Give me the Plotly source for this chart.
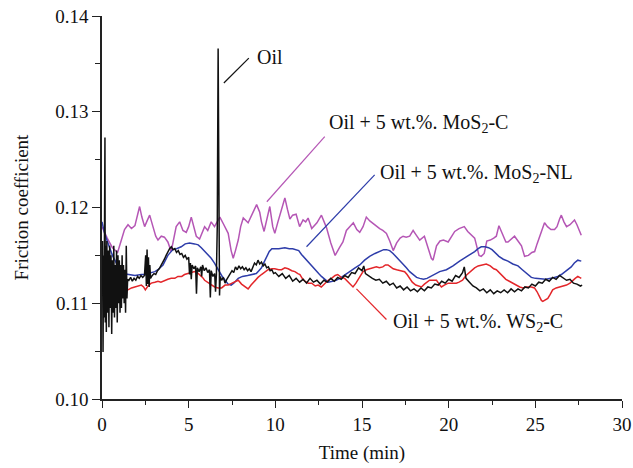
import plotly.graph_objects as go

# ---------------- data ----------------
oil_t = [0, 0.03, 0.06, 0.09, 0.12, 0.15, 0.17, 0.19, 0.22, 0.25, 0.28, 0.32, 0.36, 0.40, 0.44, 0.48, 0.52,
         0.56, 0.60, 0.64, 0.68, 0.72, 0.76, 0.80, 0.84, 0.88, 0.92, 0.96, 1.00, 1.04, 1.08, 1.12, 1.16, 1.20,
         1.24, 1.28, 1.32, 1.36, 1.40, 1.44, 1.48,
         1.55, 1.65, 1.75, 1.85, 1.95, 2.05, 2.15, 2.25, 2.35, 2.45,
         2.52, 2.56, 2.60, 2.64, 2.68, 2.72, 2.76, 2.80,
         2.9, 3.0, 3.1, 3.2, 3.3, 3.4, 3.5, 3.6, 3.7, 3.8, 3.9, 4.0, 4.1, 4.2, 4.3, 4.4, 4.5, 4.6, 4.7, 4.8,
         4.9, 5.0, 5.05, 5.1, 5.15, 5.2, 5.3, 5.4, 5.45, 5.5, 5.6, 5.7, 5.75, 5.8, 5.9, 6.0, 6.1, 6.2, 6.25,
         6.3, 6.4, 6.5, 6.55, 6.6, 6.65, 6.70, 6.74, 6.78, 6.82, 6.9, 7.0, 7.1, 7.2, 7.3, 7.4, 7.5, 7.6, 7.7,
         7.8, 7.9, 8.0, 8.1, 8.2, 8.3, 8.4, 8.5, 8.6, 8.7, 8.8, 8.9, 9.0, 9.1, 9.2, 9.3, 9.4, 9.5, 9.6, 9.7,
         9.8, 9.9, 10.0, 10.2, 10.4, 10.6, 10.8, 11.0, 11.2, 11.4, 11.6, 11.8, 12.0, 12.2, 12.4, 12.6, 12.8,
         13.0, 13.2, 13.4, 13.6, 13.8, 14.0, 14.2, 14.4, 14.6, 14.8, 15.0, 15.1, 15.2, 15.4, 15.6, 15.8, 16.0,
         16.2, 16.4, 16.6, 16.8, 17.0, 17.2, 17.4, 17.6, 17.8, 18.0, 18.2, 18.4, 18.6, 18.8, 19.0, 19.2, 19.4,
         19.6, 19.8, 20.0, 20.2, 20.4, 20.6, 20.8, 20.9, 21.0, 21.2, 21.4, 21.6, 21.8, 22.0, 22.2, 22.4, 22.6,
         22.8, 23.0, 23.2, 23.4, 23.6, 23.8, 24.0, 24.2, 24.4, 24.6, 24.8, 25.0, 25.2, 25.4, 25.6, 25.8, 26.0,
         26.2, 26.4, 26.6, 26.8, 27.0, 27.2, 27.4, 27.6, 27.7]
oil_f = [0.1130, 0.1165, 0.1049, 0.1150, 0.1085, 0.1220, 0.1273, 0.1080, 0.1160, 0.1070, 0.1165, 0.1090,
         0.1155, 0.1075, 0.1160, 0.1095, 0.1150, 0.1068, 0.1145, 0.1090, 0.1160, 0.1085, 0.1140, 0.1095,
         0.1155, 0.1080, 0.1150, 0.1100, 0.1145, 0.1090, 0.1140, 0.1095, 0.1150, 0.1105, 0.1140, 0.1100,
         0.1135, 0.1090, 0.1160, 0.1105, 0.1125,
         0.1124, 0.1127, 0.1123, 0.1126, 0.1124, 0.1128, 0.1126, 0.1129, 0.1127, 0.1129,
         0.1150, 0.1118, 0.1156, 0.1120, 0.1148, 0.1117, 0.1140, 0.1126,
         0.1129, 0.1131, 0.1130, 0.1134, 0.1136, 0.1139, 0.1142, 0.1146, 0.1150, 0.1154, 0.1157, 0.1159,
         0.1156, 0.1157, 0.1153, 0.1155, 0.1151, 0.1152, 0.1148, 0.1150, 0.1146, 0.1148, 0.1130, 0.1142,
         0.1125, 0.1140, 0.1136, 0.1139, 0.1110, 0.1137, 0.1133, 0.1138, 0.1128, 0.1140, 0.1134, 0.1137,
         0.1132, 0.1135, 0.1106, 0.1134, 0.1128, 0.1131, 0.1112, 0.1130, 0.1180, 0.1366, 0.1200, 0.1108,
         0.1128, 0.1124, 0.1127, 0.1121, 0.1125, 0.1128, 0.1131, 0.1134, 0.1132, 0.1138, 0.1135, 0.1139,
         0.1136, 0.1138, 0.1135, 0.1137, 0.1134, 0.1136, 0.1133, 0.1138, 0.1142, 0.1140, 0.1145, 0.1141,
         0.1143, 0.1139, 0.1141, 0.1137, 0.1138, 0.1134, 0.1135, 0.1131, 0.1132, 0.1128, 0.1131, 0.1126,
         0.1129, 0.1123, 0.1126, 0.1122, 0.1125, 0.1121, 0.1126, 0.1122, 0.1124, 0.1120, 0.1124, 0.1122,
         0.1126, 0.1123, 0.1127, 0.1125, 0.1129, 0.1127, 0.1132, 0.1131, 0.1137, 0.1134, 0.1139, 0.1131,
         0.1128, 0.1126, 0.1124, 0.1125, 0.1121, 0.1123, 0.1119, 0.1121, 0.1116, 0.1118, 0.1114, 0.1117,
         0.1113, 0.1115, 0.1112, 0.1116, 0.1113, 0.1117, 0.1116, 0.1120, 0.1119, 0.1123, 0.1121, 0.1125,
         0.1123, 0.1129, 0.1127, 0.1132, 0.1138, 0.1126, 0.1122, 0.1118, 0.1116, 0.1113, 0.1115, 0.1111,
         0.1114, 0.1110, 0.1113, 0.1111, 0.1114, 0.1111, 0.1115, 0.1112, 0.1115, 0.1113, 0.1117, 0.1116,
         0.1120, 0.1118, 0.1122, 0.1121, 0.1125, 0.1123, 0.1127, 0.1125, 0.1129, 0.1126, 0.1124, 0.1125,
         0.1121, 0.1120, 0.1118, 0.1119]

mosc_t = [0.0, 0.3, 0.6, 0.9, 1.1, 1.3, 1.5, 1.7, 1.9, 2.05, 2.17, 2.3, 2.46, 2.6, 2.75, 2.94, 3.1, 3.23,
          3.42, 3.6, 3.8, 3.99, 4.15, 4.28, 4.48, 4.67, 4.86, 5.0, 5.15, 5.3, 5.44, 5.63, 5.8, 5.92, 6.1,
          6.30, 6.49, 6.8, 7.0, 7.28, 7.45, 7.57, 7.7, 7.86, 8.0, 8.15, 8.43, 8.7, 8.92, 9.1, 9.2, 9.35, 9.5,
          9.68, 9.85, 9.97, 10.15, 10.26, 10.55, 10.7, 10.84, 11.0, 11.2, 11.4, 11.6, 11.75, 11.89, 12.1,
          12.4, 12.66, 12.95, 13.2, 13.45, 13.7, 13.9, 14.1, 14.29, 14.5, 14.7, 14.87, 15.06, 15.25, 15.45,
          15.64, 15.83, 16.02, 16.2, 16.41, 16.6, 16.8, 17.0, 17.2, 17.37, 17.55, 17.75, 17.95, 18.1, 18.33,
          18.6, 18.8, 19.0, 19.1, 19.3, 19.5, 19.7, 19.97, 20.1, 20.35, 20.6, 20.9, 21.1, 21.3, 21.5, 21.6,
          21.75, 21.88, 22.05, 22.2, 22.4, 22.6, 22.75, 22.9, 23.1, 23.3, 23.42, 23.6, 23.8, 24.0, 24.2,
          24.38, 24.6, 24.8, 24.96, 25.1, 25.25, 25.4, 25.53, 25.7, 25.9, 26.11, 26.25, 26.4, 26.5, 26.65,
          26.8, 27.0, 27.26, 27.4, 27.55, 27.65]
mosc_f = [0.1180, 0.1168, 0.1158, 0.1153, 0.1165, 0.1177, 0.1182, 0.1178, 0.1181, 0.1192, 0.1201, 0.1190,
          0.1180, 0.1186, 0.1192, 0.1180, 0.1170, 0.1166, 0.1170, 0.1169, 0.1164, 0.1154, 0.1168, 0.1180,
          0.1185, 0.1176, 0.1174, 0.1180, 0.1190, 0.1180, 0.1170, 0.1167, 0.1175, 0.1180, 0.1176, 0.1185,
          0.1180, 0.1190, 0.1183, 0.1173, 0.1155, 0.1147, 0.1155, 0.1166, 0.1180, 0.1189, 0.1184, 0.1195,
          0.1203, 0.1195, 0.1185, 0.1175, 0.1188, 0.1201, 0.1180, 0.1173, 0.1185, 0.1192, 0.1210, 0.1198,
          0.1188, 0.1192, 0.1193, 0.1180, 0.1187, 0.1185, 0.1189, 0.1178, 0.1184, 0.1192, 0.1179, 0.1163,
          0.1150, 0.1158, 0.1164, 0.1176, 0.1180, 0.1184, 0.1177, 0.1174, 0.1180, 0.1190, 0.1186, 0.1183,
          0.1180, 0.1178, 0.1176, 0.1173, 0.1165, 0.1155, 0.1163, 0.1168, 0.1170, 0.1169, 0.1170, 0.1176,
          0.1172, 0.1166, 0.1170, 0.1158, 0.1147, 0.1145, 0.1160, 0.1165, 0.1166, 0.1164, 0.1168, 0.1175,
          0.1178, 0.1180, 0.1175, 0.1172, 0.1168, 0.1161, 0.1150, 0.1149, 0.1152, 0.1165, 0.1166, 0.1168,
          0.1170, 0.1181, 0.1172, 0.1164, 0.1164, 0.1167, 0.1170, 0.1165, 0.1160, 0.1149, 0.1150, 0.1153,
          0.1154, 0.1162, 0.1170, 0.1178, 0.1184, 0.1180, 0.1177, 0.1177, 0.1180, 0.1188, 0.1192, 0.1185,
          0.1180, 0.1182, 0.1187, 0.1182, 0.1176, 0.1171]

mosnl_t = [0.0, 0.15, 0.3, 0.44, 0.6, 0.8, 1.0, 1.2, 1.5, 1.9, 2.27, 2.6, 2.84, 3.05, 3.23, 3.52, 3.8, 4.09,
           4.3, 4.57, 4.8, 5.05, 5.34, 5.55, 5.73, 5.9, 6.11, 6.3, 6.49, 6.7, 6.9, 7.1, 7.28, 7.45, 7.6, 7.86,
           8.1, 8.4, 8.65, 8.9, 9.05, 9.2, 9.35, 9.5, 9.65, 9.8, 10.2, 10.55, 10.8, 11.0, 11.2, 11.35, 11.51,
           11.7, 11.89, 12.1, 12.28, 12.5, 12.66, 12.85, 13.05, 13.3, 13.5, 13.72, 14.0, 14.29, 14.6, 14.87,
           15.15, 15.44, 15.75, 16.02, 16.25, 16.41, 16.6, 16.79, 17.0, 17.18, 17.38, 17.56, 17.75, 17.94,
           18.15, 18.33, 18.55, 18.75, 19.1, 19.48, 19.87, 20.25, 20.63, 20.9, 21.2, 21.5, 21.7, 21.88, 22.1,
           22.3, 22.5, 22.7, 22.9, 23.15, 23.42, 23.7, 24.0, 24.25, 24.48, 24.77, 25.0, 25.34, 25.6, 25.9,
           26.1, 26.3, 26.5, 26.7, 26.9, 27.07, 27.25, 27.45, 27.65]
mosnl_f = [0.1185, 0.1173, 0.1165, 0.1158, 0.1150, 0.1143, 0.1136, 0.1131, 0.1130, 0.1129, 0.1130, 0.1130,
           0.1132, 0.1133, 0.1135, 0.1140, 0.1150, 0.1156, 0.1157, 0.1159, 0.1162, 0.1163, 0.1162, 0.1161,
           0.1158, 0.1155, 0.1151, 0.1147, 0.1142, 0.1135, 0.1129, 0.1124, 0.1120, 0.1119, 0.1121, 0.1126,
           0.1128, 0.1129, 0.1130, 0.1131, 0.1134, 0.1137, 0.1143, 0.1148, 0.1154, 0.1157, 0.1157, 0.1158,
           0.1157, 0.1157, 0.1156, 0.1155, 0.1151, 0.1147, 0.1143, 0.1139, 0.1135, 0.1131, 0.1128, 0.1125,
           0.1122, 0.1123, 0.1124, 0.1126, 0.1129, 0.1133, 0.1137, 0.1140, 0.1145, 0.1149, 0.1152, 0.1154,
           0.1156, 0.1156, 0.1155, 0.1152, 0.1148, 0.1145, 0.1141, 0.1137, 0.1133, 0.1130, 0.1127, 0.1126,
           0.1125, 0.1126, 0.1129, 0.1133, 0.1135, 0.1139, 0.1144, 0.1147, 0.1150, 0.1154, 0.1157, 0.1159,
           0.1159, 0.1158, 0.1156, 0.1152, 0.1149, 0.1146, 0.1144, 0.1141, 0.1139, 0.1135, 0.1131, 0.1127,
           0.1126, 0.1125, 0.1125, 0.1126, 0.1127, 0.1128, 0.1130, 0.1133, 0.1135, 0.1138, 0.1142, 0.1145,
           0.1144]

wsc_t = [0.0, 0.15, 0.3, 0.45, 0.6, 0.8, 1.0, 1.2, 1.5, 1.7, 1.88, 2.1, 2.27, 2.4, 2.5, 2.65, 2.84, 3.05,
         3.23, 3.4, 3.61, 3.8, 3.99, 4.2, 4.38, 4.6, 4.76, 5.0, 5.15, 5.34, 5.5, 5.63, 5.8, 5.92, 6.1, 6.3,
         6.5, 6.7, 6.9, 7.1, 7.28, 7.5, 7.7, 7.86, 8.05, 8.24, 8.43, 8.6, 8.82, 9.0, 9.2, 9.4, 9.58, 9.8,
         9.97, 10.2, 10.36, 10.55, 10.74, 10.95, 11.13, 11.3, 11.42, 11.55, 11.7, 11.9, 12.1, 12.3, 12.47,
         12.65, 12.85, 13.05, 13.24, 13.45, 13.6, 13.8, 14.0, 14.15, 14.29, 14.48, 14.65, 14.85, 15.06,
         15.25, 15.44, 15.65, 15.83, 16.0, 16.2, 16.35, 16.5, 16.65, 16.8, 17.0, 17.2, 17.46, 17.6, 17.75,
         17.9, 18.1, 18.25, 18.43, 18.6, 18.9, 19.1, 19.3, 19.45, 19.58, 19.75, 19.97, 20.2, 20.44, 20.6,
         20.8, 21.0, 21.11, 21.3, 21.5, 21.7, 21.88, 22.17, 22.4, 22.6, 22.75, 22.95, 23.13, 23.3, 23.5,
         23.7, 23.9, 24.1, 24.29, 24.5, 24.77, 24.95, 25.1, 25.25, 25.35, 25.43, 25.55, 25.72, 25.85, 26.0,
         26.2, 26.4, 26.6, 26.8, 27.0, 27.16, 27.3, 27.45, 27.55, 27.65]
wsc_f = [0.1121, 0.1114, 0.1108, 0.1110, 0.1112, 0.1113, 0.1112, 0.1114, 0.1114, 0.1116, 0.1117, 0.1118,
         0.1119, 0.1117, 0.1114, 0.1118, 0.1121, 0.1122, 0.1123, 0.1122, 0.1124, 0.1125, 0.1126, 0.1126,
         0.1128, 0.1128, 0.1130, 0.1131, 0.1132, 0.1133, 0.1132, 0.1130, 0.1127, 0.1124, 0.1122, 0.1119,
         0.1117, 0.1116, 0.1116, 0.1119, 0.1119, 0.1121, 0.1123, 0.1124, 0.1120, 0.1117, 0.1115, 0.1119,
         0.1124, 0.1127, 0.1130, 0.1133, 0.1135, 0.1136, 0.1136, 0.1135, 0.1135, 0.1137, 0.1136, 0.1134,
         0.1133, 0.1131, 0.1130, 0.1126, 0.1123, 0.1121, 0.1121, 0.1118, 0.1119, 0.1117, 0.1121, 0.1124,
         0.1126, 0.1129, 0.1130, 0.1127, 0.1126, 0.1123, 0.1121, 0.1117, 0.1121, 0.1127, 0.1133, 0.1135,
         0.1136, 0.1137, 0.1138, 0.1137, 0.1138, 0.1140, 0.1140, 0.1138, 0.1136, 0.1135, 0.1134, 0.1133,
         0.1130, 0.1126, 0.1122, 0.1119, 0.1118, 0.1117, 0.1120, 0.1124, 0.1124, 0.1124, 0.1120, 0.1117,
         0.1119, 0.1121, 0.1121, 0.1121, 0.1122, 0.1124, 0.1129, 0.1131, 0.1134, 0.1137, 0.1139, 0.1140,
         0.1141, 0.1139, 0.1136, 0.1135, 0.1131, 0.1128, 0.1125, 0.1123, 0.1121, 0.1119, 0.1117, 0.1116,
         0.1117, 0.1117, 0.1116, 0.1112, 0.1107, 0.1103, 0.1102, 0.1103, 0.1105, 0.1109, 0.1114, 0.1116,
         0.1117, 0.1118, 0.1119, 0.1121, 0.1124, 0.1126, 0.1128, 0.1127, 0.1126]

series_names = ["Oil", "Oil + 5 wt.%. MoS<sub>2</sub>-C", "Oil + 5 wt.%. MoS<sub>2</sub>-NL",
                "Oil + 5 wt.%. WS<sub>2</sub>-C"]
series_colors = ["#111111", "#B556B5", "#2E3DAA", "#E3262A"]

x_ticks = [0, 5, 10, 15, 20, 25, 30]
y_ticks = [0.10, 0.11, 0.12, 0.13, 0.14]
y_tick_text = ["0.10", "0.11", "0.12", "0.13", "0.14"]

# label placement (layout only): leader start (x0,y0), leader end (x1,y1), text anchor
label_leaders = [
    (7.03, 0.1330, 8.47, 0.1356),
    (9.51, 0.1206, 12.85, 0.1274),
    (11.80, 0.1159, 15.73, 0.1234),
    (14.68, 0.1115, 16.41, 0.1083),
]
label_pos = [
    (8.85, 0.1357),
    (13.0, 0.1288),
    (15.95, 0.1235),
    (16.65, 0.1080),
]

FONT = "Liberation Serif, Times New Roman, serif"

fig = go.Figure()
data = [(oil_t, oil_f), (mosc_t, mosc_f), (mosnl_t, mosnl_f), (wsc_t, wsc_f)]
# draw order: magenta, blue, red, black on top
for idx in [1, 2, 3, 0]:
    t, f = data[idx]
    fig.add_trace(go.Scatter(x=t, y=f, mode="lines", name=series_names[idx],
                             line=dict(color=series_colors[idx], width=1.5), showlegend=False))

for i, (x0, y0, x1, y1) in enumerate(label_leaders):
    fig.add_shape(type="line", xref="x", yref="y", x0=x0, y0=y0, x1=x1, y1=y1,
                  line=dict(color=series_colors[i], width=1.2))
    lx, ly = label_pos[i]
    fig.add_annotation(x=lx, y=ly, xref="x", yref="y", text=series_names[i], showarrow=False,
                       xanchor="left", yanchor="middle", font=dict(family=FONT, size=20, color="#111"))

fig.update_layout(
    width=633, height=468,
    margin=dict(l=102, r=11, t=16, b=69, autoexpand=False),
    paper_bgcolor="white", plot_bgcolor="white",
    font=dict(family=FONT, size=19, color="#111"),
)
fig.update_xaxes(range=[0, 30], tickvals=x_ticks, ticks="outside", ticklen=7, tickwidth=1.3,
                 tickcolor="#222", showline=True, linecolor="#222", linewidth=1.5, showgrid=False,
                 zeroline=False, automargin=False, ticklabeloverflow="allow",
                 minor=dict(dtick=2.5, ticks="outside", ticklen=4, tickwidth=1.2,
                            tickcolor="#222", showgrid=False),
                 title=dict(text="Time (min)", font=dict(family=FONT, size=19), standoff=12),
                 tickfont=dict(family=FONT, size=19))
fig.update_yaxes(range=[0.10, 0.14], tickvals=y_ticks, ticktext=y_tick_text, ticks="outside", ticklen=8,
                 tickwidth=1.3, tickcolor="#222", showline=True, linecolor="#222", linewidth=1.5,
                 showgrid=False, zeroline=False, automargin=False, ticklabeloverflow="allow",
                 minor=dict(dtick=0.005, ticks="outside", ticklen=5, tickwidth=1.2, tickcolor="#222",
                            showgrid=False),
                 title=dict(text="Friction coefficient", font=dict(family=FONT, size=19), standoff=22),
                 tickfont=dict(family=FONT, size=19))

# remove the default page margin so the 633x468 figure fills the window exactly
fig.write_html("out.html", config={"displayModeBar": False},
               post_script="document.body.style.margin='0';document.body.style.overflow='hidden';")
